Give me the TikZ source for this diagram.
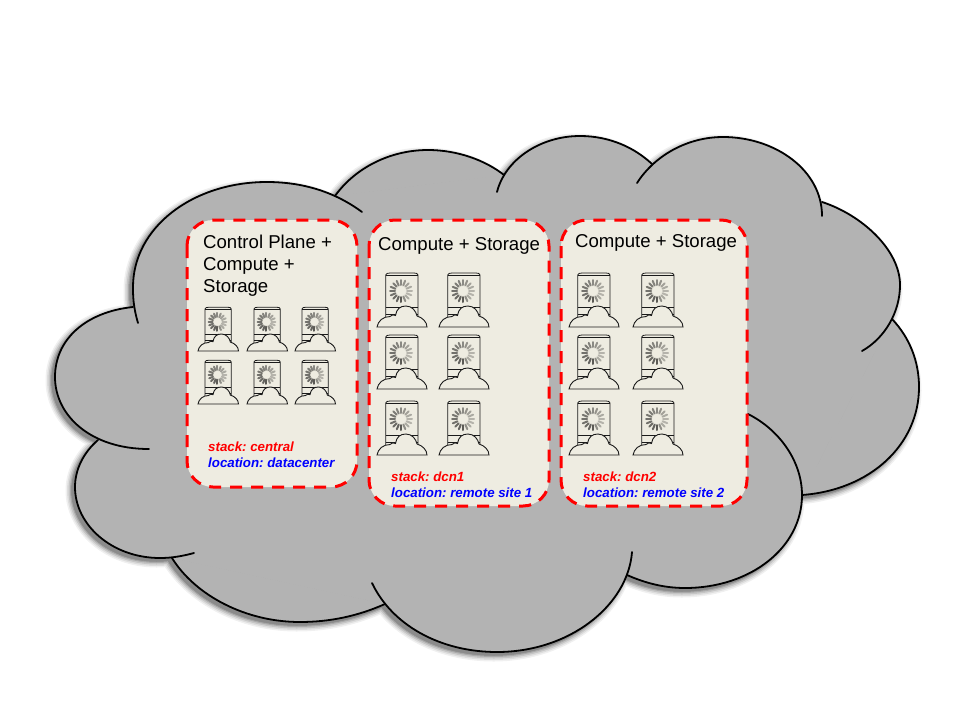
\documentclass[tikz,border=0pt]{standalone}
\usepackage{fontspec}
\setmainfont{Liberation Sans}
\usetikzlibrary{calc}
\def\lobeA{(133,307) .. controls (85,312) and (55,340) .. (55,377) .. controls (55,415) and (90,449) .. (149,449)}
\def\lobeB{(138,323) .. controls (133,306) and (133,295) .. (133,287) .. controls (133,228) and (192,182) .. (267,182) .. controls (303,182) and (335,192) .. (362,212)}
\def\lobeC{(335,196) .. controls (355,168) and (390,150) .. (428,150) .. controls (457,150) and (485,160) .. (504,175)}
\def\lobeD{(497,192) .. controls (505,160) and (540,136) .. (580,136) .. controls (610,136) and (635,148) .. (652,164)}
\def\lobeE{(637,183) .. controls (655,155) and (688,137) .. (723,137) .. controls (775,137) and (822,170) .. (822,216)}
\def\lobeF{(822,202) .. controls (862,215) and (900,250) .. (900,285) .. controls (900,312) and (885,338) .. (862,351)}
\def\lobeG{(892,319) .. controls (910,338) and (919,362) .. (919,387) .. controls (919,445) and (870,490) .. (802,495)}
\def\lobeH{(748,414) .. controls (780,430) and (802,462) .. (802,495) .. controls (802,548) and (750,588) .. (685,588) .. controls (664,588) and (645,583) .. (627,575)}
\def\lobeI{(372,583) .. controls (392,625) and (440,652) .. (497,652) .. controls (570,652) and (628,605) .. (632,552)}
\def\lobeJ{(385,604) .. controls (358,616) and (330,622) .. (300,622) .. controls (245,622) and (195,595) .. (172,558)}
\def\lobeK{(194,553) .. controls (183,556) and (172,558) .. (160,558) .. controls (112,558) and (75,525) .. (75,487) .. controls (75,470) and (83,453) .. (98,440)}
\def\lobeCore{(133,307) -- (335,196) -- (504,175) -- (652,164) -- (822,202) -- (892,319) -- (802,495) -- (627,575) -- (385,604) -- (172,558) -- (98,440)}
\definecolor{cloudgray}{HTML}{B3B3B3}
\definecolor{panelbg}{HTML}{EEECE1}
\definecolor{inkc}{HTML}{1A1A1A}
\tikzset{
  lobe/.style={draw=black,line width=1.8pt,line cap=round},
  panel/.style={draw=red,fill=panelbg,line width=3pt,dash pattern=on 12pt off 9pt,rounded corners=26pt},
  titletext/.style={anchor=base west,inner sep=0pt,font=\fontsize{18.6}{22}\selectfont,align=left,text=black},
  stacktext/.style={anchor=base west,inner sep=0pt,font=\fontsize{13.3}{16}\selectfont\bfseries\itshape\frenchspacing,text=red},
  loctext/.style={anchor=base west,inner sep=0pt,font=\fontsize{13.3}{16}\selectfont\bfseries\itshape\frenchspacing,text=blue},
  serverpic/.pic={
    \draw[inkc,line width=.8pt,fill=panelbg] (8.7,-10) -- (8.7,-52) .. controls (8.7,-53.5) and (11,-54) .. (13,-54) -- (37,-54) .. controls (39,-54) and (41,-53.5) .. (41,-52) -- (41,-10);
    \draw[inkc,line width=.8pt] (8.7,-51.5) -- (41,-51.5);
    \draw[inkc,line width=.8pt] (8.7,-20) -- (41,-20) (8.7,-13) -- (41,-13);
    \foreach \a/\g in {90/62,112/58,135/55,157/52,180/52,202/50,225/48,247/45,270/42,292/38,315/32,337/28,0/24,22/24,45/28,67/40}{
      \draw[black!\g!panelbg,line width=2pt,line cap=round] ($(24,-36)+(\a:6)$) -- ($(24,-36)+(\a:11)$);
    }
    \draw[inkc,line width=.9pt,fill=panelbg] (0,0) .. controls (1,-6) and (6,-10.5) .. (13,-10.5)
      .. controls (14.5,-12.5) and (17,-12.5) .. (18.5,-11.5)
      .. controls (19.5,-18) and (23,-21) .. (29,-21)
      .. controls (35,-21) and (39,-16) .. (40,-11)
      .. controls (45.5,-9.5) and (50,-5) .. (50,0) -- cycle;
  }
}
\begin{document}
\begin{tikzpicture}[x=1pt,y=-1pt]
\path[use as bounding box] (0,0) rectangle (960,720);
% shadow
\foreach \w/\op in {12/.06,9/.08,6/.11,3/.14,.5/.18}{
  \begin{scope}[transparency group,opacity=\op,shift={(-3.5,3.5)}]
    \foreach \l in {\lobeA,\lobeB,\lobeC,\lobeD,\lobeE,\lobeF,\lobeG,\lobeH,\lobeI,\lobeJ,\lobeK,\lobeCore}{
      \filldraw[black,line width=\w pt,line join=round] \l -- cycle;
    }
  \end{scope}
}
\foreach \l in {\lobeA,\lobeB,\lobeC,\lobeD,\lobeE,\lobeF,\lobeG,\lobeH,\lobeI,\lobeJ,\lobeK,\lobeCore}{
  \filldraw[fill=cloudgray,draw=cloudgray,line width=.8pt] \l -- cycle;
}
\foreach \l in {\lobeA,\lobeB,\lobeC,\lobeD,\lobeE,\lobeF,\lobeG,\lobeH,\lobeI,\lobeJ,\lobeK}{
  \draw[lobe] \l;
}
% panels
\path[panel] (187,220) rectangle (357,487);
\path[panel] (369,220) rectangle (549,506);
\path[panel] (561,220) rectangle (747,506);
% titles
\node[titletext] (t1) at (203,292) {Control Plane +\\Compute +\\Storage};
\node[titletext] (t2) at (378,250) {Compute + Storage};
\node[titletext] (t3) at (575,247) {Compute + Storage};
% labels
\node[stacktext] (s1) at (208,451) {stack: central};
\node[loctext] (l1) at (208,467) {location: datacenter};
\node[stacktext] (s2) at (391,481) {stack: dcn1};
\node[loctext] (l2) at (391,497) {location: remote site 1};
\node[stacktext] (s3) at (583,481) {stack: dcn2};
\node[loctext] (l3) at (583,497) {location: remote site 2};
% icons
\foreach \x in {198,247,295}{\foreach \y in {351,404}{
  \pic[scale=.81] at (\x,\y) {serverpic};
}}
\foreach \x in {377,439,569,633}{\foreach \y in {327,389,455}{
  \pic at (\x,\y) {serverpic};
}}
\end{tikzpicture}
\end{document}
